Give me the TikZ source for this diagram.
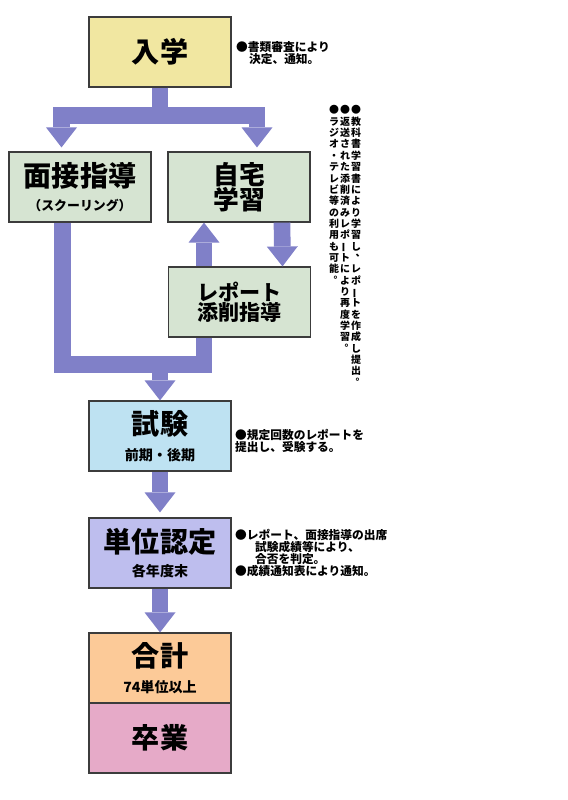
\documentclass[tikz,border=0pt]{standalone}
\usepackage{fontspec}
\setmainfont{Noto Sans CJK JP}
\usepackage{graphicx}
\usetikzlibrary{arrows.meta,calc}

\definecolor{flowblue}{RGB}{128,128,200}
\definecolor{edgegray}{RGB}{60,60,60}
\definecolor{entrycol}{RGB}{241,231,161}
\definecolor{studycol}{RGB}{214,228,210}
\definecolor{examcol}{RGB}{190,226,242}
\definecolor{creditcol}{RGB}{190,190,238}
\definecolor{totalcol}{RGB}{252,202,152}
\definecolor{gradcol}{RGB}{230,170,200}

\newcommand\tate[1]{\vbox{\offinterlineskip\tateloop#1\relax}}
\def\tateloop#1{\ifx\relax#1\else\hbox to 1em{\vrule height .97em depth .17em width 0pt\hss\smash{#1}\hss}\expandafter\tateloop\fi}
\newcommand\tatepunct[1]{\rlap{\kern.45em\raisebox{.55em}{#1}}\phantom{#1}}
\newcommand\tatebar{\rotatebox[origin=c]{90}{ー}}
\newcommand\subtext[1]{{\fontsize{12}{14}\selectfont #1}}

\begin{document}
\begin{tikzpicture}[x=0.3mm,y=-0.3mm,
    box/.style={draw=edgegray,line width=0.35mm,minimum width=42.6mm,minimum height=21mm,
      inner sep=0pt,align=center,font=\fontsize{24}{26}\selectfont\bfseries},
    flow/.style={draw=flowblue,line width=5mm,-{Triangle[width=9.3mm,length=6mm,line width=0pt]}},
    flowline/.style={draw=flowblue,line width=5mm},
    note/.style={anchor=north west,inner sep=0pt,align=left,font=\fontsize{10}{10.3}\selectfont\bfseries},
    tatecol/.style={anchor=north,inner sep=0pt,font=\fontsize{8.5}{10}\selectfont\bfseries}]
  \useasboundingbox (0,0) rectangle (568,800);

  \node[box,fill=entrycol] (nyugaku) at (160,52) {入学};
  \node[box,fill=studycol] (mensetsu) at (80,187) {面接指導\\[-5pt]{\fontsize{11}{13}\selectfont （スクーリング）}};
  \node[box,fill=studycol,font=\fontsize{22}{21.3}\selectfont\bfseries] (jitaku) at (239,187) {自宅\\学習};
  \node[box,fill=studycol,font=\fontsize{18}{17}\selectfont\bfseries] (report) at (239.5,302) {レポート\\添削指導};
  \node[box,fill=examcol] (shiken) at (160,436) {試験\\[-4pt]\subtext{前期・後期}};
  \node[box,fill=creditcol] (tani) at (160,553) {単位認定\\[-5pt]\subtext{各年度末}};
  \node[box,fill=totalcol] (goukei) at (160,668) {合計\\[-4pt]\subtext{74単位以上}};
  \node[box,fill=gradcol] (sotsugyo) at (160,738) {卒業};

  \node[note] (entrynote) at (236,41) {●書類審査により\\\hspace*{1.1em}決定、通知。};
  \node[note] (examnote) at (235,429) {●規定回数のレポートを\\提出し、受験する。};
  \node[note] (creditnote) at (235,529) {●レポート、面接指導の出席\\\hspace*{1.7em}試験成績等により、\\\hspace*{1.7em}合否を判定。\\●成績通知表により通知。};

  \node[tatecol] (tate1) at (356,104) {\tate{●教科書学習書により学習し{\tatepunct{、}}レポ{\tatebar}トを作成し提出{\tatepunct{。}}}};
  \node[tatecol] (tate2) at (345,104) {\tate{●返送された添削済みレポ{\tatebar}トにより再度学習{\tatepunct{。}}}};
  \node[tatecol] (tate3) at (334,104) {\tate{●ラジオ・テレビ等の利用も可能{\tatepunct{。}}}};

  \draw[flow,shorten >=1.2mm] (nyugaku.south) -- ++(0,28) -| ($(mensetsu.north)+(-18.5,0)$);
  \draw[flow,shorten >=1.2mm] (nyugaku.south) -- ++(0,28) -| ($(jitaku.north)+(18,0)$);
  \draw[flow] ($(report.north)+(-35.5,0)$) -- ($(jitaku.south)+(-35,0)$);
  \draw[flow] ($(jitaku.south)+(43,0)$) -- ($(report.north)+(43,0)$);
  \draw[flowline] ($(mensetsu.south)+(-17.5,0)$) |- ($(report.south)+(-35.5,27)$) -- ($(report.south)+(-35.5,0)$);
  \coordinate (merge) at ($(shiken.north)+(0,-38)$);
  \draw[flow] (merge) -- (shiken.north);
  \draw[flow,shorten >=1.5mm] (shiken.south) -- (tani.north);
  \draw[flow] (tani.south) -- (goukei.north);
\end{tikzpicture}
\end{document}
